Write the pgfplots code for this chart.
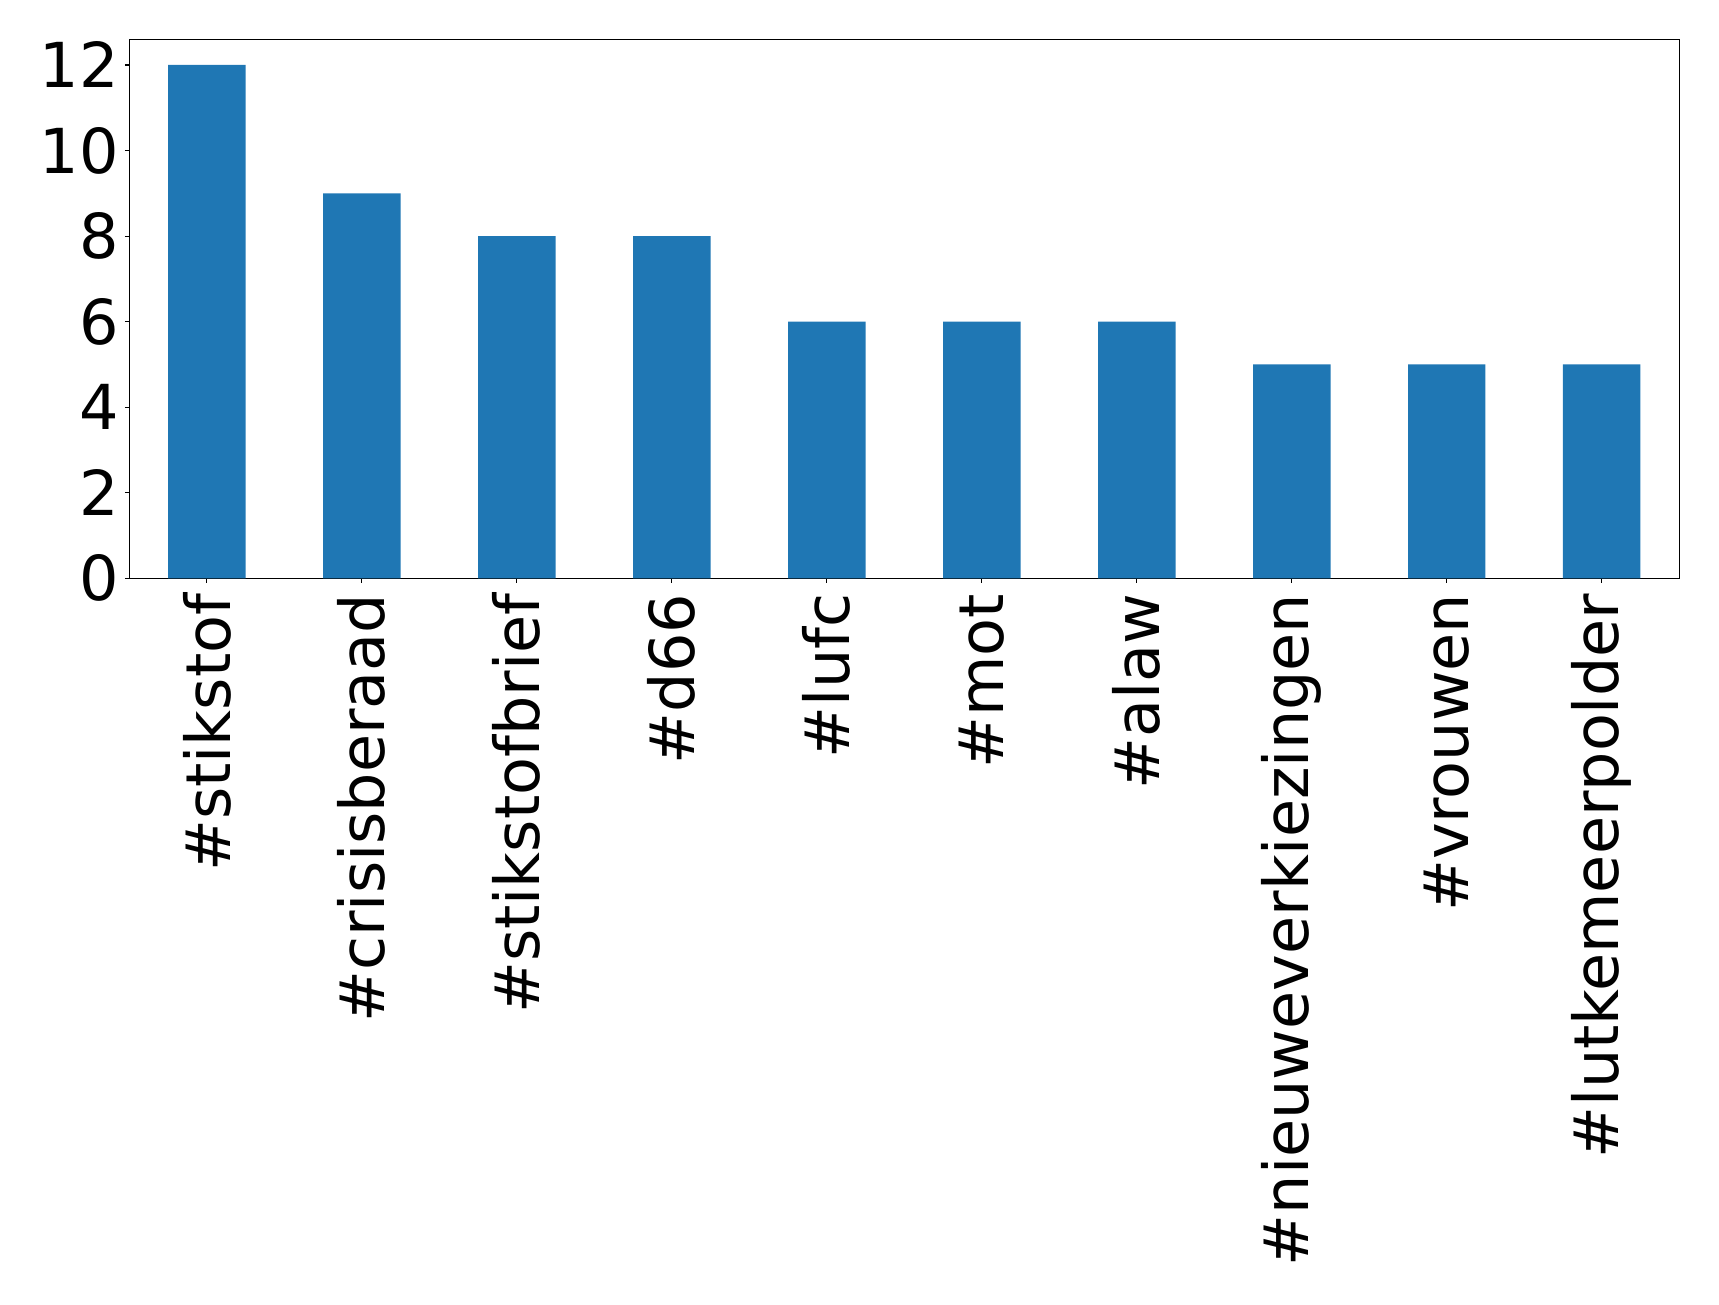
\documentclass[border=0pt]{standalone}
\usepackage{fontspec}
\setmainfont{DejaVu Sans}
\usepackage{pgfplots}
\pgfplotsset{compat=1.18}
\definecolor{mplblue}{HTML}{1F77B4}
\begin{document}
\begin{tikzpicture}
\begin{axis}[
  at={(0,0)}, anchor=south west,
  scale only axis, width=774.9pt, height=269.5pt,
  xmin=-0.5, xmax=9.5, ymin=0, ymax=12.6,
  ytick={0,2,4,6,8,10,12},
  xtick={0,1,2,3,4,5,6,7,8,9},
  xticklabels={\#stikstof,\#crisisberaad,\#stikstofbrief,\#d66,\#lufc,\#mot,\#alaw,\#nieuweverkiezingen,\#vrouwen,\#lutkemeerpolder},
  tick align=outside, major tick length=2.25pt,
  xtick pos=lower, ytick pos=left,
  axis line style={line width=0.55pt},
  every tick/.style={black, line width=0.55pt},
  /pgf/number format/assume math mode=true,
  tick label style={font=\fontsize{31}{37}\selectfont},
  yticklabel style={inner sep=0pt, outer sep=0pt, xshift=-3.2pt},
  xticklabel style={rotate=90, anchor=east, inner xsep=5.5pt, inner ysep=0pt, outer sep=0pt},
]
\addplot[ybar, bar width=0.5, fill=mplblue, draw=none] coordinates {
(0,12) (1,9) (2,8) (3,8) (4,6) (5,6) (6,6) (7,5) (8,5) (9,5)};
\end{axis}
\pgfresetboundingbox
\path[use as bounding box] (-64.7pt,-363.35pt) rectangle (794.8pt,289.15pt);
\end{tikzpicture}
\end{document}
